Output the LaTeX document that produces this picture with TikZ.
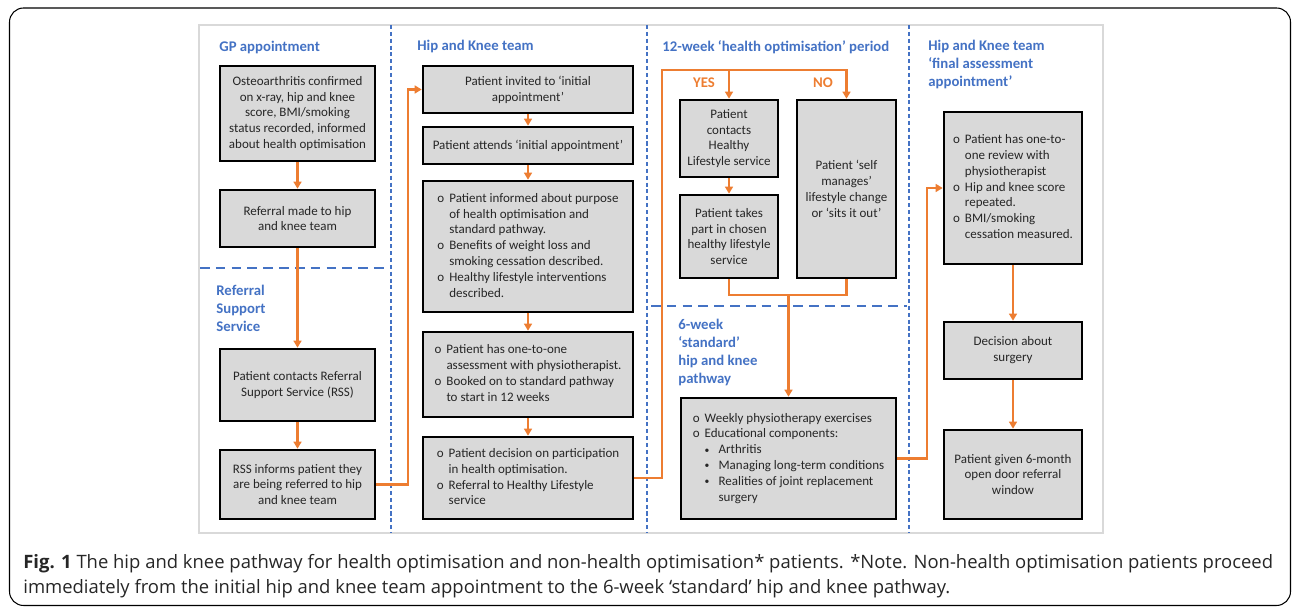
\documentclass[tikz,border=0pt]{standalone}
\usepackage{fontspec}
\setmainfont{Carlito}
\newfontfamily\capfont{Open Sans}
\usetikzlibrary{arrows.meta}
\definecolor{hkorange}{HTML}{ED7D31}
\definecolor{hkblue}{HTML}{4472C4}
\definecolor{hkgray}{HTML}{D9D9D9}
\definecolor{hktext}{HTML}{262626}
\tikzset{box/.style={draw=black, line width=1.5pt, fill=hkgray, inner sep=0pt, align=center, text=hktext, font=\fontsize{7.4}{9}\selectfont}}
\tikzset{flow/.style={draw=hkorange, line width=1.4pt, -{Triangle[length=4pt,width=4.5pt]}}}
\tikzset{link/.style={draw=hkorange, line width=1.4pt}}
\tikzset{phase/.style={anchor=north west, inner sep=0pt, align=left, text=hkblue, font=\bfseries\fontsize{8.4}{10.3}\selectfont}}
\tikzset{answer/.style={inner sep=0pt, text=hkorange, font=\bfseries\fontsize{8.4}{10}\selectfont}}
\tikzset{lane/.style={draw=hkblue, line width=0.8pt, dash pattern=on 2.3pt off 1.6pt}}
\tikzset{cut/.style={draw=hkblue, line width=0.8pt, dash pattern=on 5.5pt off 3.5pt}}
\newcommand{\bul}{\makebox[6.8pt][l]{o}}
\newcommand{\subbul}{\makebox[7.9pt][l]{\raisebox{0.4pt}{\fontsize{5.5}{5.5}\selectfont\textbullet}}}

\begin{document}
\begin{tikzpicture}[x=0.02cm, y=-0.02cm]
\useasboundingbox (0,0) rectangle (1292,607);
\draw[line width=0.6pt, rounded corners=8pt] (9.5,8) rectangle (1290.5,605.5);
\draw[line width=0.7pt, draw=hkgray] (199,25) rectangle (1103,533);
\foreach \x in {391,647,909}
    \draw[lane] (\x,25) -- (\x,533);
\draw[cut] (200,268) -- (385,268);
\draw[cut] (651,306) -- (907,306);

\node[phase] (gp) at (219,41) {GP appointment};
\node[phase] (rsshead) at (216,285) {Referral\\Support\\Service};
\node[phase] (hkteam) at (417,40) {Hip and Knee team};
\node[phase] (optim) at (662,40) {12-week ‘health optimisation’ period};
\node[phase] (standard) at (678,319) {6-week\\‘standard’\\hip and knee\\pathway};
\node[phase] (final) at (928,40) {Hip and Knee team\\‘final assessment\\appointment’};
\node[answer] (yes) at (704,83) {YES};
\node[answer] (no) at (823,83) {NO};

\node[box, minimum width=3.1cm, minimum height=1.9cm] (oa) at (297.5,113.5) {Osteoarthritis confirmed\\on x-ray, hip and knee\\score, BMI/smoking\\status recorded, informed\\about health optimisation};
\node[box, minimum width=3.1cm, minimum height=1.14cm] (refer) at (297.5,218.5) {Referral made to hip\\and knee team};
\node[box, minimum width=3.1cm, minimum height=1.44cm] (rss) at (297.5,385) {Patient contacts Referral\\Support Service (RSS)};
\node[box, minimum width=3.1cm, minimum height=1.38cm] (inform) at (297.5,484.5) {RSS informs patient they\\are being referred to hip\\and knee team};

\node[box, minimum width=4.2cm, minimum height=0.94cm] (invite) at (528,89.5) {Patient invited to ‘initial\\appointment’};
\node[box, minimum width=4.2cm, minimum height=0.74cm] (attend) at (528,145.5) {Patient attends ‘initial appointment’};
\node[box, minimum width=4.2cm, minimum height=2.62cm] (purpose) at (528,246.5) {\begin{tabular}{@{}l@{}l@{}}
\bul & Patient informed about purpose\\
 & of health optimisation and\\
 & standard pathway.\\
\bul & Benefits of weight loss and\\
 & smoking cessation described.\\
\bul & Healthy lifestyle interventions\\
 & described.
\end{tabular}};
\node[box, minimum width=4.2cm, minimum height=1.7cm] (assess) at (528,374.5) {\begin{tabular}{@{}l@{}l@{}}
\bul & Patient has one-to-one\\
 & assessment with physiotherapist.\\
\bul & Booked on to standard pathway\\
 & to start in 12 weeks
\end{tabular}};
\node[box, minimum width=4.2cm, minimum height=1.64cm] (decide) at (528,478) {\begin{tabular}{@{}l@{}l@{}}
\bul & Patient decision on participation\\
 & in health optimisation.\\
\bul & Referral to Healthy Lifestyle\\
 & service
\end{tabular}};

\node[box, minimum width=1.96cm, minimum height=1.54cm] (contact) at (729,138.5) {Patient\\contacts\\Healthy\\Lifestyle service};
\node[box, minimum width=1.96cm, minimum height=1.66cm] (takes) at (729,236.5) {Patient takes\\part in chosen\\healthy lifestyle\\service};
\node[box, minimum width=1.98cm, minimum height=3.56cm] (self) at (846.5,189) {Patient ‘self\\manages’\\lifestyle change\\or ‘sits it out’};
\node[box, minimum width=4.3cm, minimum height=2.42cm] (weekly) at (788.5,458.5) {\begin{tabular}{@{}l@{}l@{}l@{}}
\bul & \multicolumn{2}{@{}l@{}}{Weekly physiotherapy exercises}\\
\bul & \multicolumn{2}{@{}l@{}}{Educational components:}\\
 & \subbul & Arthritis\\
 & \subbul & Managing long-term conditions\\
 & \subbul & Realities of joint replacement\\
 & & surgery
\end{tabular}};

\node[box, minimum width=2.76cm, minimum height=3.04cm] (review) at (1013,188) {\begin{tabular}{@{}l@{}l@{}}
\bul & Patient has one-to-\\
 & one review with\\
 & physiotherapist\\
\bul & Hip and knee score\\
 & repeated.\\
\bul & BMI/smoking\\
 & cessation measured.
\end{tabular}};
\node[box, minimum width=2.76cm, minimum height=1.14cm] (surgery) at (1013,350.5) {Decision about\\surgery};
\node[box, minimum width=2.76cm, minimum height=1.78cm] (window) at (1013,474.5) {Patient given 6-month\\open door referral\\window};

\foreach \a/\b in {oa/refer, refer/rss, rss/inform, invite/attend, attend/purpose, purpose/assess, assess/decide, contact/takes, review/surgery, surgery/window}
    \draw[flow] (\a) -- (\b);
\coordinate (bendA) at (408,0);
\draw[flow] (inform.east) -| (bendA |- invite.west) -- (invite.west);
\coordinate (bendB) at (662,70);
\draw[flow] (decide.east) -| (bendB) -| (self.north);
\draw[flow] (contact.north |- bendB) -- (contact.north);
\coordinate (merge) at (788.5,295);
\draw[link] (takes.south) |- (merge) -| (self.south);
\draw[flow] (merge) -- (weekly.north);
\coordinate (bendC) at (927,0);
\draw[flow] (weekly.east) -| (bendC |- review.west) -- (review.west);

\node[anchor=north west, inner sep=0pt, align=left, text=hktext, font=\capfont\fontsize{10.5}{14.2}\selectfont] (caption) at (23,554) {\textbf{Fig. 1} The hip and knee pathway for health optimisation and non-health optimisation* patients. *Note. Non-health optimisation patients proceed\\immediately from the initial hip and knee team appointment to the 6-week ‘standard’ hip and knee pathway.};
\end{tikzpicture}
\end{document}
